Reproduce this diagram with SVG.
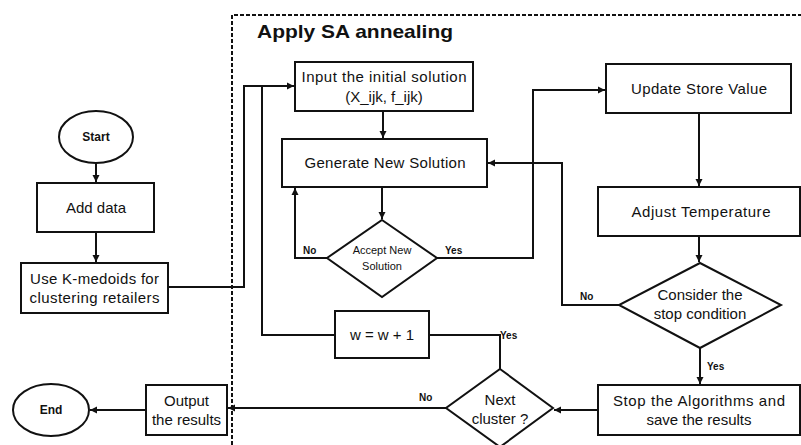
<svg xmlns="http://www.w3.org/2000/svg" width="801" height="445" viewBox="0 0 801 445">
  <style>
    .box { fill: #ffffff; stroke: #111111; stroke-width: 2; }
    .line { fill: none; stroke: #111111; stroke-width: 2; }
    .arrow { marker-end: url(#head); }
    .t { font-family: "Liberation Sans", Arial, sans-serif; font-size: 15px; fill: #111111; text-anchor: middle; }
    .small { font-size: 11px; }
    .term { font-size: 12px; font-weight: bold; }
    .lbl { font-family: "Liberation Sans", Arial, sans-serif; font-size: 10px; font-weight: bold; fill: #111111; }
    .title { font-family: "Liberation Sans", Arial, sans-serif; font-size: 19px; font-weight: bold; fill: #111111; }
    .dash { fill: none; stroke: #111111; stroke-width: 2; stroke-dasharray: 4 2; }
  </style>
  <defs>
    <marker id="head" markerWidth="8" markerHeight="8" refX="7" refY="4" orient="auto" markerUnits="userSpaceOnUse">
      <path d="M0,0.5 L7,4 L0,7.5 Z" fill="#111111"/>
    </marker>
  </defs>
  <rect width="801" height="445" fill="#ffffff"/>

  <!-- SA annealing frame -->
  <g id="sa-frame">
    <path class="dash" d="M232,445 V15 H801"/>
    <text class="title" x="257" y="38" textLength="196" lengthAdjust="spacingAndGlyphs">Apply SA annealing</text>
  </g>

  <!-- connectors -->
  <g id="connectors">
    <path class="line arrow" d="M96,163 V182"/>
    <path class="line arrow" d="M96,232 V262"/>
    <path class="line arrow" d="M168,287 H244 V86 H294"/>
    <path class="line" d="M335,335 H262 V86"/>
    <path class="line arrow" d="M383,111 V138"/>
    <path class="line arrow" d="M382,187 V219"/>
    <path class="line arrow" d="M327,258 H295 V188"/>
    <path class="line arrow" d="M437,258 H533 V90 H605"/>
    <path class="line arrow" d="M699,113 V186"/>
    <path class="line arrow" d="M699,236 V262"/>
    <path class="line arrow" d="M619,305 H562 V163 H488"/>
    <path class="line arrow" d="M700,348 V384"/>
    <path class="line arrow" d="M598,410 H554"/>
    <path class="line" d="M500,369 V335 H429"/>
    <path class="line arrow" d="M446,408 H228"/>
    <path class="line arrow" d="M146,410 H90"/>
    <text class="lbl" x="303" y="254">No</text>
    <text class="lbl" x="445" y="254">Yes</text>
    <text class="lbl" x="580" y="300">No</text>
    <text class="lbl" x="707" y="370">Yes</text>
    <text class="lbl" x="500" y="339">Yes</text>
    <text class="lbl" x="419" y="401">No</text>
  </g>

  <g id="start">
    <ellipse class="box" cx="96" cy="137" rx="37" ry="26"/>
    <text class="t term" x="96" y="141">Start</text>
  </g>

  <g id="add-data">
    <rect class="box" x="37" y="183" width="117" height="49"/>
    <text class="t" x="96" y="213">Add data</text>
  </g>

  <g id="k-medoids">
    <rect class="box" x="21" y="263" width="147" height="50"/>
    <text class="t" x="94.5" y="284" textLength="129">Use K-medoids for</text>
    <text class="t" x="94.5" y="303" textLength="130">clustering retailers</text>
  </g>

  <g id="input-solution">
    <rect class="box" x="295" y="62" width="178" height="49"/>
    <text class="t" x="384" y="82" textLength="165">Input the initial solution</text>
    <text class="t" x="384" y="102">(X_ijk, f_ijk)</text>
  </g>

  <g id="generate">
    <rect class="box" x="282" y="139" width="205" height="48"/>
    <text class="t" x="385" y="168" textLength="161">Generate New Solution</text>
  </g>

  <g id="accept">
    <polygon class="box" points="382,220 437,258 382,297 327,258"/>
    <text class="t small" x="382" y="254">Accept New</text>
    <text class="t small" x="382" y="270">Solution</text>
  </g>

  <g id="update-store">
    <rect class="box" x="606" y="64" width="185" height="49"/>
    <text class="t" x="699" y="94" textLength="136">Update Store Value</text>
  </g>

  <g id="adjust-temp">
    <rect class="box" x="598" y="187" width="202" height="49"/>
    <text class="t" x="701" y="217" textLength="139">Adjust Temperature</text>
  </g>

  <g id="stop-condition">
    <polygon class="box" points="700,263 781,305 700,348 619,305"/>
    <text class="t" x="700" y="300">Consider the</text>
    <text class="t" x="700" y="319">stop condition</text>
  </g>

  <g id="stop-save">
    <rect class="box" x="598" y="385" width="202" height="50"/>
    <text class="t" x="699" y="406" textLength="172">Stop the Algorithms and</text>
    <text class="t" x="699" y="425">save the results</text>
  </g>

  <g id="next-cluster">
    <polygon class="box" points="500,369 553,408 500,447 446,408"/>
    <text class="t" x="500" y="405">Next</text>
    <text class="t" x="500" y="424">cluster ?</text>
  </g>

  <g id="increment">
    <rect class="box" x="335" y="311" width="94" height="47"/>
    <text class="t" x="382" y="340">w = w + 1</text>
  </g>

  <g id="output">
    <rect class="box" x="146" y="385" width="81" height="50"/>
    <text class="t" x="186.5" y="406">Output</text>
    <text class="t" x="186.5" y="425">the results</text>
  </g>

  <g id="end">
    <ellipse class="box" cx="51" cy="410" rx="38" ry="26"/>
    <text class="t term" x="51" y="414">End</text>
  </g>
</svg>
